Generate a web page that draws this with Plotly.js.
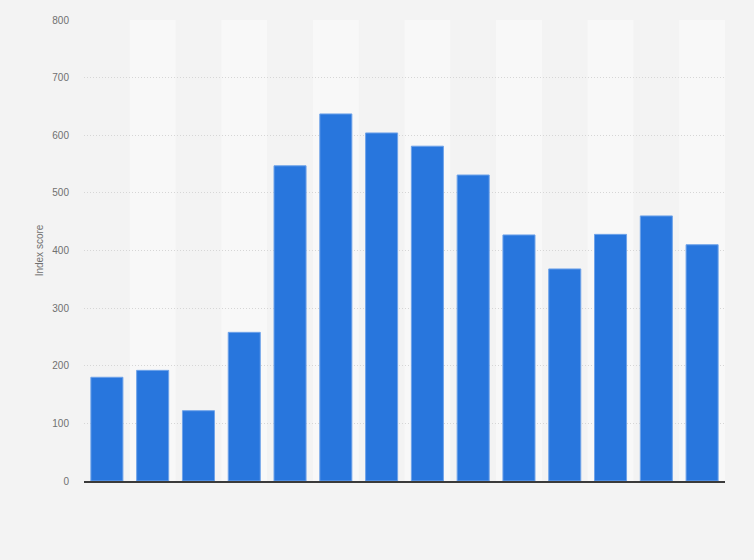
<!DOCTYPE html>
<html>
<head>
<meta charset="utf-8">
<script src="https://cdn.plot.ly/plotly-3.0.1.min.js"></script>
<style>
  html, body { margin: 0; padding: 0; background: #f3f3f3; }
  #chart { width: 754px; height: 560px; }
</style>
</head>
<body>
<div id="chart"></div>
<script>
// values, one per bar (no category labels are shown)
const categories = [0, 1, 2, 3, 4, 5, 6, 7, 8, 9, 10, 11, 12, 13];
const scores = [180, 192, 122, 258, 547, 637, 604, 581, 531, 427, 368, 428, 460, 410];
const yTicks = [0, 100, 200, 300, 400, 500, 600, 700, 800];

const trace = {
    type: 'bar',
    x: categories,
    y: scores,
    marker: {
        color: '#2876dd',
        line: { color: '#6fa3e9', width: 1 },
    },
    hoverinfo: 'y',
};

// alternating light column bands behind the bars
const bands = [];
categories.forEach(function (c, i) {
    if (i % 2 === 0) return;
    bands.push({
        type: 'rect',
        xref: 'x',
        yref: 'paper',
        x0: c - 0.5,
        x1: c + 0.5,
        y0: 0,
        y1: 1,
        fillcolor: '#f8f8f8',
        line: { width: 0 },
        layer: 'below',
    });
});

const layout = {
    width: 754,
    height: 560,
    margin: { l: 84, r: 29, t: 20, b: 79 },
    paper_bgcolor: '#f3f3f3',
    plot_bgcolor: 'rgba(0,0,0,0)',
    font: { family: 'Liberation Sans, Arial, sans-serif', size: 10, color: '#666' },
    showlegend: false,
    bargap: 0.3,
    shapes: bands,
    xaxis: {
        range: [-0.5, 13.5],
        showticklabels: false,
        showgrid: false,
        zeroline: false,
        showline: true,
        linecolor: '#3a3a3a',
        linewidth: 1.5,
        ticks: '',
        fixedrange: true,
    },
    yaxis: {
        range: [0, 800],
        tickvals: yTicks,
        showgrid: true,
        gridcolor: '#d6d6d6',
        griddash: '1px,2px',
        gridwidth: 1,
        zeroline: false,
        showline: false,
        ticks: '',
        ticklabelstandoff: 14,
        tickfont: { size: 10, color: '#707070' },
        title: { text: 'Index score', font: { size: 10, color: '#707070' }, standoff: 6 },
        fixedrange: true,
    },
};

Plotly.newPlot('chart', [trace], layout, { displayModeBar: false, staticPlot: true });
</script>
</body>
</html>
